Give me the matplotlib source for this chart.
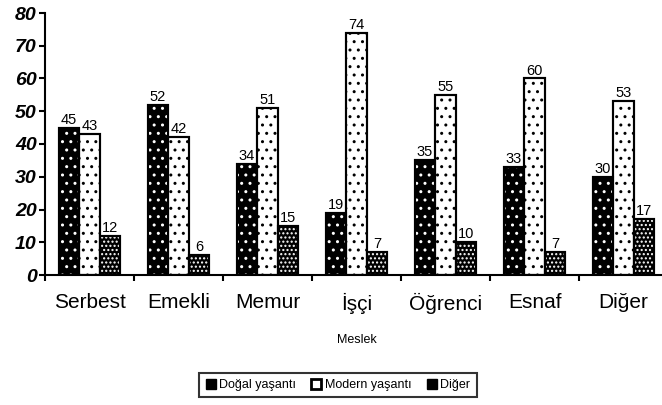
import matplotlib
matplotlib.use("Agg")
import matplotlib.pyplot as plt
import numpy as np
from matplotlib.patches import Patch

plt.rcParams['font.family'] = ['Liberation Sans', 'DejaVu Sans']

categories = ["Serbest", "Emekli", "Memur", "İşçi", "Öğrenci", "Esnaf", "Diğer"]
series_names = ["Doğal yaşantı", "Modern yaşantı", "Diğer"]
dogal = [45, 52, 34, 19, 35, 33, 30]
modern = [43, 42, 51, 74, 55, 60, 53]
diger = [12, 6, 15, 7, 10, 7, 17]
yticks = [0, 10, 20, 30, 40, 50, 60, 70, 80]

fig = plt.figure(figsize=(6.62, 4.05), dpi=100)
W, H = 662, 405
left, right, bottom, top = 45, 668, 275, 13
ax = fig.add_axes([left / W, (H - bottom) / H, (right - left) / W, (bottom - top) / H])

x = np.arange(len(categories))
bw = 0.23
offs = [-bw, 0, bw]
faces = ['black', 'white', 'black']
dotcol = ['white', 'black', 'white']
hatches = ['..', '..', '....']
data = [dogal, modern, diger]

plt.rcParams['hatch.linewidth'] = 1.0
for vals, off, fc, dc, ht in zip(data, offs, faces, dotcol, hatches):
    ax.bar(x + off, vals, bw, color=fc, edgecolor='black', linewidth=1.5, zorder=2)
    ax.bar(x + off, vals, bw, facecolor='none', edgecolor=dc, linewidth=0, hatch=ht, zorder=3)
    ax.bar(x + off, vals, bw, facecolor='none', edgecolor='black', linewidth=1.5, zorder=4)
    for xi, v in zip(x + off, vals):
        ax.text(xi, v + 0.3, str(v), ha='center', va='bottom', fontsize=10.5, zorder=5)

ax.set_xlim(-0.5, len(categories) - 0.5)
ax.set_ylim(0, 80)
ax.set_yticks(yticks)
ax.set_yticklabels([str(t) for t in yticks], fontsize=14, fontweight='bold', fontstyle='italic')
ax.set_xticks(x)
ax.set_xticklabels(categories, fontsize=15)
ax.tick_params(axis='x', which='major', length=0, pad=13)
ax.set_xticks(np.arange(len(categories) + 1) - 0.5, minor=True)
ax.tick_params(axis='x', which='minor', length=4, width=1.5, direction='out')
ax.tick_params(axis='y', length=4, width=1.5, direction='out', pad=2)
for s in ['top', 'right']:
    ax.spines[s].set_visible(False)
for s in ['left', 'bottom']:
    ax.spines[s].set_linewidth(1.5)

ax.set_xlabel("Meslek", fontsize=9, labelpad=14)

handles = [
    Patch(facecolor='black', edgecolor='black', linewidth=1),
    Patch(facecolor='white', edgecolor='black', linewidth=2),
    Patch(facecolor='black', edgecolor='black', linewidth=1),
]
leg = fig.legend(handles, series_names, loc='center', bbox_to_anchor=(338 / W, (H - 385) / H),
                 ncol=3, fontsize=9, frameon=True, fancybox=False, edgecolor='black',
                 handlelength=0.8, handleheight=0.8, handletextpad=0.3, columnspacing=1.2,
                 borderpad=0.5)
leg.get_frame().set_linewidth(1.5)

fig.savefig("out.png", dpi=100)
